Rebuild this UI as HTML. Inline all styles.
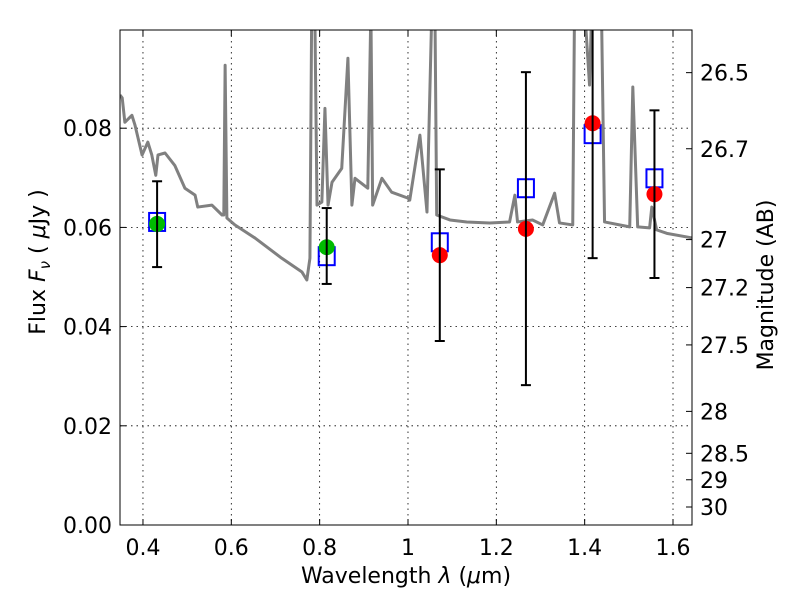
<!DOCTYPE html>
<html><head><meta charset="utf-8"><style>
html,body{margin:0;padding:0;background:#fff}
svg{display:block;font-family:"DejaVu Sans","Liberation Sans",sans-serif}
</style></head><body>
<svg id="chart" width="800" height="600" viewBox="0 0 800 600" xmlns="http://www.w3.org/2000/svg"></svg>
<script>
const specLam=[0.348,0.353,0.359,0.375,0.382,0.398,0.411,0.420,0.429,0.434,0.450,0.472,0.495,0.518,0.524,0.556,0.579,0.583,0.586,0.590,0.608,0.653,0.714,0.760,0.771,0.778,0.782,0.789,0.794,0.805,0.812,0.819,0.828,0.850,0.864,0.873,0.880,0.909,0.916,0.920,0.941,0.963,1.000,1.004,1.027,1.043,1.054,1.061,1.065,1.095,1.133,1.185,1.230,1.242,1.248,1.282,1.305,1.332,1.343,1.373,1.377,1.400,1.411,1.416,1.438,1.445,1.502,1.509,1.520,1.547,1.552,1.563,1.586,1.642];
const specFlux=[0.0867,0.0861,0.0812,0.0826,0.0806,0.0746,0.0772,0.0746,0.0705,0.0746,0.0750,0.0725,0.0679,0.0665,0.0641,0.0645,0.0625,0.0625,0.0927,0.0619,0.0605,0.0579,0.0538,0.0510,0.0494,0.0538,0.104,0.104,0.0645,0.0651,0.0840,0.0645,0.0691,0.0719,0.0941,0.0645,0.0699,0.0679,0.104,0.0645,0.0699,0.0671,0.0659,0.0655,0.0786,0.0631,0.104,0.104,0.0625,0.0615,0.0611,0.0609,0.0611,0.0665,0.0611,0.0615,0.0605,0.0669,0.0609,0.0605,0.104,0.104,0.0887,0.104,0.104,0.0611,0.0601,0.0883,0.0601,0.0599,0.0641,0.0595,0.0588,0.0579];
const photLam=[0.432,0.816,1.072,1.267,1.418,1.558];
const photFlux=[0.0607,0.0560,0.0544,0.0597,0.0810,0.0667];
const photErrHi=[0.0693,0.0639,0.0717,0.0913,0.106,0.0836];
const photErrLo=[0.0520,0.0486,0.0371,0.0282,0.0538,0.0498];
const photColor=["#00bb00","#00bb00","red","red","red","red"];
const modelFlux=[0.0611,0.0542,0.0570,0.0679,0.0788,0.0699];
const xTicks=[0.4,0.6,0.8,1.0,1.2,1.4,1.6];
const xTickLabels=["0.4","0.6","0.8","1","1.2","1.4","1.6"];
const yTicks=[0,0.02,0.04,0.06,0.08];
const yTickLabels=["0.00","0.02","0.04","0.06","0.08"];
const magTicks=[26.5,26.7,27,27.2,27.5,28,28.5,29,30];
const magTickLabels=["26.5","26.7","27","27.2","27.5","28","28.5","29","30"];

const L=120,R=692,T=30,B=525;
const xMin=0.348,xMax=1.643,yMin=0,yMax=0.0998;
const X=v=>L+(v-xMin)/(xMax-xMin)*(R-L);
const Y=v=>B-(v-yMin)/(yMax-yMin)*(B-T);
const svg=document.getElementById('chart');
const NS="http://www.w3.org/2000/svg";
function mk(tag,attrs,parent){const e=document.createElementNS(NS,tag);for(const k in attrs)e.setAttribute(k,attrs[k]);(parent||svg).appendChild(e);return e;}

const defs=mk('defs',{});const cp=mk('clipPath',{id:'clip'},defs);mk('rect',{x:L,y:T,width:R-L,height:B-T},cp);

const grid=mk('g',{});


xTicks.forEach(v=>{mk('line',{x1:X(v),x2:X(v),y1:T,y2:B,stroke:'#000','stroke-width':0.8,'stroke-dasharray':'1.5,4'},grid);});
yTicks.forEach(v=>{mk('line',{x1:L,x2:R,y1:Y(v),y2:Y(v),stroke:'#000','stroke-width':0.8,'stroke-dasharray':'1.5,4'},grid);});

const plot=mk('g',{'clip-path':'url(#clip)'});
const sp=mk('polyline',{points:specLam.map((l,i)=>X(l)+','+Y(specFlux[i])).join(' '),fill:'none',stroke:'#808080','stroke-width':3,'stroke-linejoin':'round'},plot);



photLam.forEach((l,i)=>{
  const g=mk('g',{},plot);
  
  
  mk('rect',{x:X(l)-8,y:Y(modelFlux[i])-9,width:16,height:18,fill:'none',stroke:'#0000ff','stroke-width':2},g);
  mk('circle',{cx:X(l),cy:Y(photFlux[i]),r:8,fill:photColor[i]},g);
  mk('line',{x1:X(l),x2:X(l),y1:Y(photErrHi[i]),y2:Y(photErrLo[i]),stroke:'#000','stroke-width':2},g);
  mk('line',{x1:X(l)-5,x2:X(l)+5,y1:Y(photErrHi[i]),y2:Y(photErrHi[i]),stroke:'#000','stroke-width':2},g);
  mk('line',{x1:X(l)-5,x2:X(l)+5,y1:Y(photErrLo[i]),y2:Y(photErrLo[i]),stroke:'#000','stroke-width':2},g);
});

const frame=mk('rect',{x:L,y:T,width:R-L,height:B-T,fill:'none',stroke:'#000','stroke-width':1});



xTicks.forEach((v,i)=>{
  mk('line',{x1:X(v),x2:X(v),y1:B,y2:B-6,stroke:'#000'});
  mk('line',{x1:X(v),x2:X(v),y1:T,y2:T+6,stroke:'#000'});
  const t=mk('text',{x:X(v),y:B+30,'text-anchor':'middle','font-size':22});
  t.textContent=xTickLabels[i];
  
  
});
yTicks.forEach((v,i)=>{
  mk('line',{x1:L,x2:L+6,y1:Y(v),y2:Y(v),stroke:'#000'});
  const t=mk('text',{x:L-8,y:Y(v)+8,'text-anchor':'end','font-size':22});
  t.textContent=yTickLabels[i];
  
  
});
magTicks.forEach((m,i)=>{
  const f=Math.pow(10,(23.9-m)/2.5);
  mk('line',{x1:R,x2:R-6,y1:Y(f),y2:Y(f),stroke:'#000'});
  const t=mk('text',{x:R+8,y:Y(f)+8,'font-size':22});
  t.textContent=magTickLabels[i];
  
  
});
</script>
<svg width="800" height="600" style="position:absolute;left:0;top:0" xmlns="http://www.w3.org/2000/svg">
<text x="406" y="583" text-anchor="middle" font-size="22" font-family="DejaVu Sans,Liberation Sans,sans-serif">Wavelength  <tspan font-style="italic">λ</tspan> (<tspan font-style="italic">μ</tspan>m)</text>
<text transform="translate(45,262) rotate(-90)" text-anchor="middle" font-size="22" font-family="DejaVu Sans,Liberation Sans,sans-serif">Flux  <tspan font-style="italic">F</tspan><tspan font-style="italic" font-size="15" dy="5">ν</tspan><tspan dy="-5">  (  </tspan><tspan font-style="italic">μ</tspan>Jy )</text>
<text transform="translate(773,285) rotate(-90)" text-anchor="middle" font-size="22" font-family="DejaVu Sans,Liberation Sans,sans-serif">Magnitude (AB)</text>
</svg>
</body></html>
